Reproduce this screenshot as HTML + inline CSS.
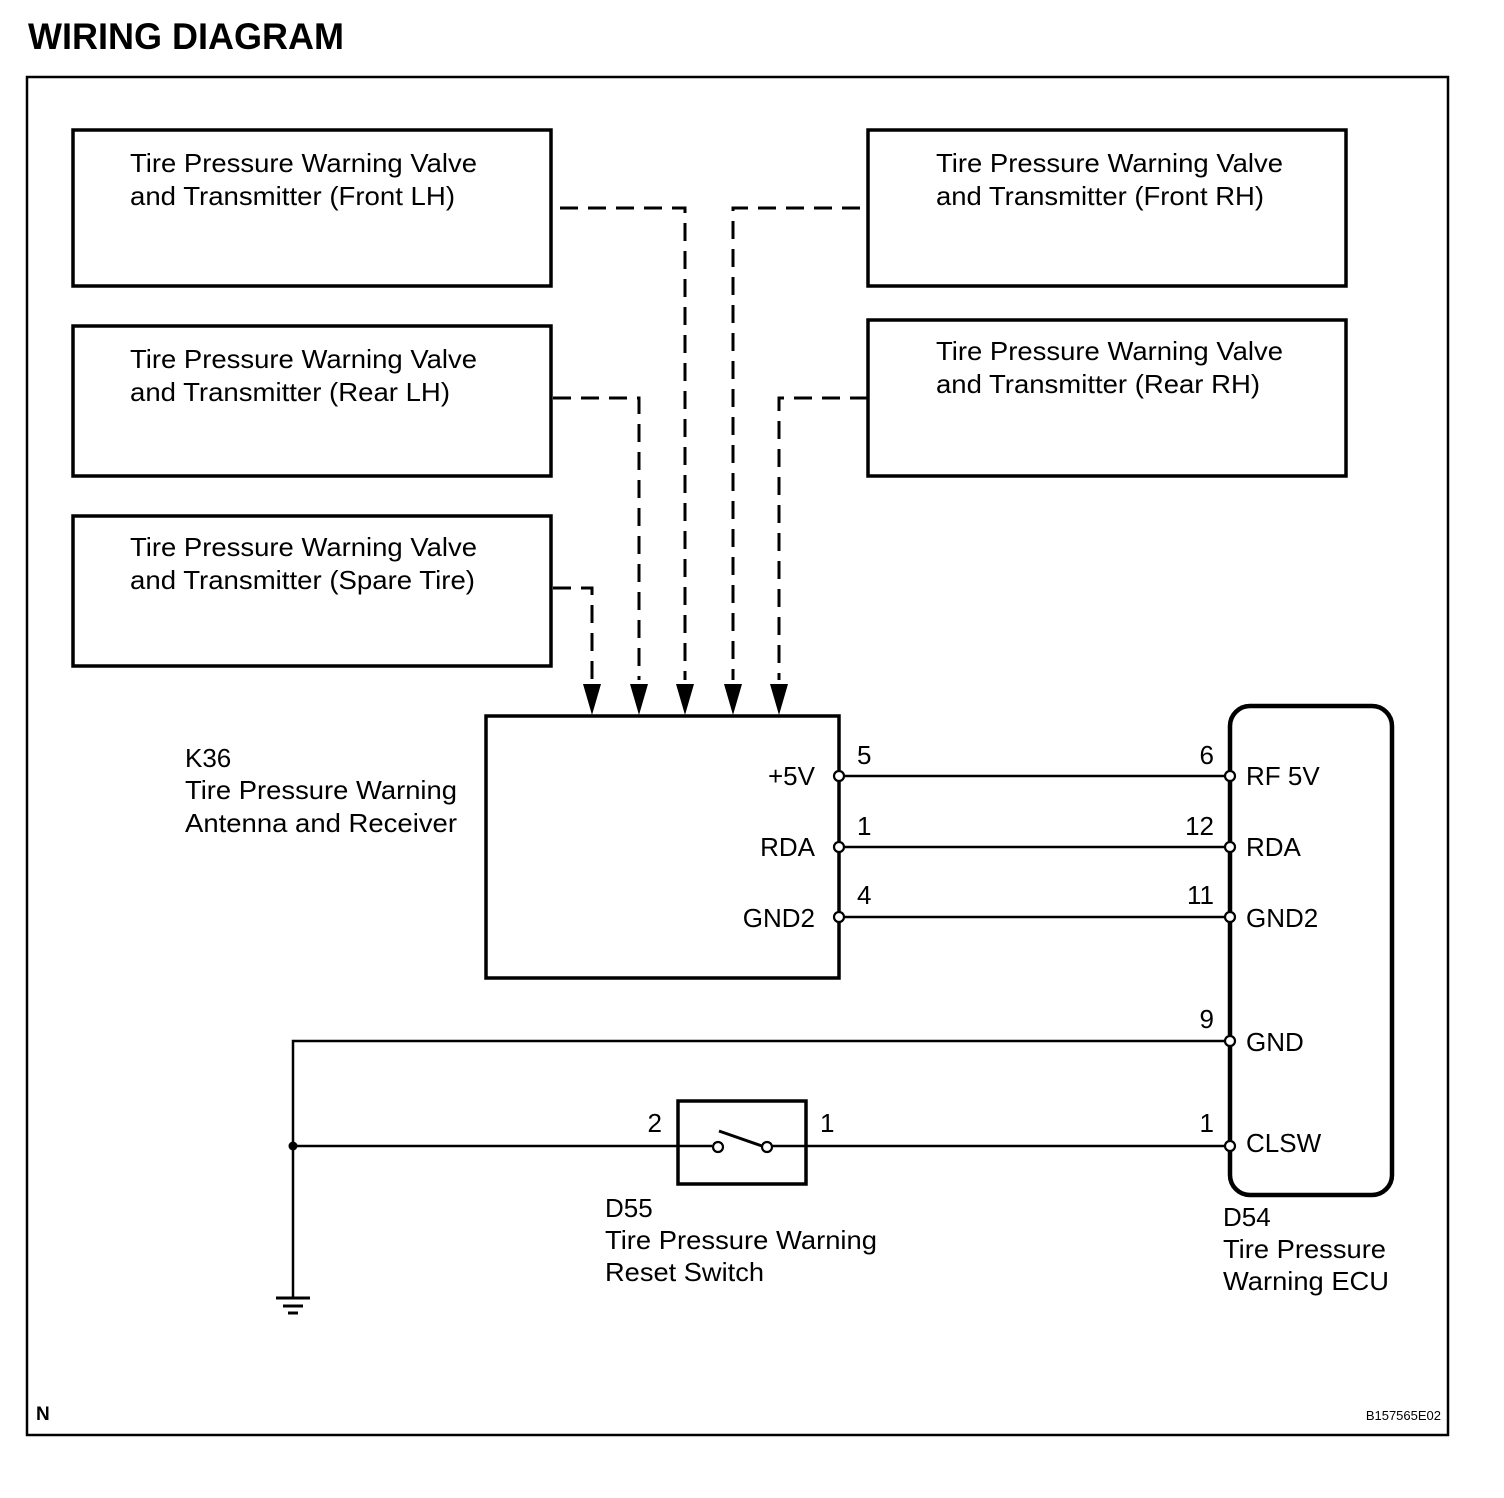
<!DOCTYPE html>
<html><head><meta charset="utf-8"><style>
html,body{margin:0;padding:0;background:#fff}
svg{display:block}
text{font-family:"Liberation Sans",Arial,sans-serif;fill:#000}
</style></head><body>
<svg width="1504" height="1498" viewBox="0 0 1504 1498" xmlns="http://www.w3.org/2000/svg">
<text x="28" y="49" font-size="37" font-weight="bold" textLength="316" lengthAdjust="spacingAndGlyphs">WIRING DIAGRAM</text>
<rect x="27" y="77" width="1421" height="1358" fill="none" stroke="#000" stroke-width="2.5"/>
<g fill="none" stroke="#000" stroke-width="3.5">
<rect x="73" y="130" width="478" height="156"/>
<rect x="73" y="326" width="478" height="150"/>
<rect x="73" y="516" width="478" height="150"/>
<rect x="868" y="130" width="478" height="156"/>
<rect x="868" y="320" width="478" height="156"/>
<rect x="486" y="716" width="353" height="262"/>
<rect x="1230" y="706" width="162" height="489" rx="20" stroke-width="4.5"/>
<rect x="678" y="1101" width="128" height="83"/>
</g>
<g font-size="26">
<text x="130" y="172" textLength="347" lengthAdjust="spacingAndGlyphs">Tire Pressure Warning Valve</text>
<text x="130" y="205" textLength="325" lengthAdjust="spacingAndGlyphs">and Transmitter (Front LH)</text>
<text x="130" y="368" textLength="347" lengthAdjust="spacingAndGlyphs">Tire Pressure Warning Valve</text>
<text x="130" y="401" textLength="320" lengthAdjust="spacingAndGlyphs">and Transmitter (Rear LH)</text>
<text x="130" y="556" textLength="347" lengthAdjust="spacingAndGlyphs">Tire Pressure Warning Valve</text>
<text x="130" y="589" textLength="345" lengthAdjust="spacingAndGlyphs">and Transmitter (Spare Tire)</text>
<text x="936" y="172" textLength="347" lengthAdjust="spacingAndGlyphs">Tire Pressure Warning Valve</text>
<text x="936" y="205" textLength="328" lengthAdjust="spacingAndGlyphs">and Transmitter (Front RH)</text>
<text x="936" y="360" textLength="347" lengthAdjust="spacingAndGlyphs">Tire Pressure Warning Valve</text>
<text x="936" y="393" textLength="324" lengthAdjust="spacingAndGlyphs">and Transmitter (Rear RH)</text>
<text x="185" y="767">K36</text>
<text x="185" y="799" textLength="272" lengthAdjust="spacingAndGlyphs">Tire Pressure Warning</text>
<text x="185" y="832" textLength="272" lengthAdjust="spacingAndGlyphs">Antenna and Receiver</text>
<text x="815" y="785" text-anchor="end">+5V</text>
<text x="815" y="856" text-anchor="end">RDA</text>
<text x="815" y="927" text-anchor="end">GND2</text>
<text x="857" y="764">5</text>
<text x="857" y="835">1</text>
<text x="857" y="904">4</text>
<text x="1214" y="764" text-anchor="end">6</text>
<text x="1214" y="835" text-anchor="end">12</text>
<text x="1214" y="904" text-anchor="end">11</text>
<text x="1214" y="1028" text-anchor="end">9</text>
<text x="1214" y="1132" text-anchor="end">1</text>
<text x="1246" y="785">RF 5V</text>
<text x="1246" y="856">RDA</text>
<text x="1246" y="927">GND2</text>
<text x="1246" y="1051">GND</text>
<text x="1246" y="1152">CLSW</text>
<text x="662" y="1132" text-anchor="end">2</text>
<text x="820" y="1132">1</text>
<text x="605" y="1217">D55</text>
<text x="605" y="1249" textLength="272" lengthAdjust="spacingAndGlyphs">Tire Pressure Warning</text>
<text x="605" y="1281" textLength="159" lengthAdjust="spacingAndGlyphs">Reset Switch</text>
<text x="1223" y="1226">D54</text>
<text x="1223" y="1258" textLength="163" lengthAdjust="spacingAndGlyphs">Tire Pressure</text>
<text x="1223" y="1290" textLength="166" lengthAdjust="spacingAndGlyphs">Warning ECU</text>
</g>
<text x="36" y="1420" font-size="19" font-weight="bold">N</text>
<text x="1441" y="1420" font-size="13" text-anchor="end">B157565E02</text>
<g fill="none" stroke="#000" stroke-width="3" stroke-dasharray="18,10">
<polyline points="560,208 685,208 685,680"/>
<polyline points="860,208 733,208 733,680"/>
<polyline points="553,398 639,398 639,680"/>
<polyline points="868,398 779,398 779,680"/>
<polyline points="553,588 592,588 592,680"/>
</g>
<g fill="#000">
<polygon points="583,684 601,684 592,715"/>
<polygon points="630,684 648,684 639,715"/>
<polygon points="676,684 694,684 685,715"/>
<polygon points="724,684 742,684 733,715"/>
<polygon points="770,684 788,684 779,715"/>
</g>
<g stroke="#000" stroke-width="2.5" fill="none">
<line x1="839" y1="776" x2="1230" y2="776"/>
<line x1="839" y1="847" x2="1230" y2="847"/>
<line x1="839" y1="917" x2="1230" y2="917"/>
<polyline points="1230,1041 293,1041 293,1298"/>
<line x1="293" y1="1146" x2="712" y2="1146"/>
<line x1="772" y1="1146" x2="1230" y2="1146"/>
<line x1="719" y1="1131" x2="762" y2="1146" stroke-width="3"/>
</g>
<g stroke="#000" stroke-width="3">
<line x1="276" y1="1298" x2="310" y2="1298"/>
<line x1="283" y1="1306" x2="303" y2="1306"/>
<line x1="288" y1="1313" x2="298" y2="1313"/>
</g>
<circle cx="293" cy="1146" r="4.5" fill="#000"/>
<g fill="#fff" stroke="#000" stroke-width="2.2">
<circle cx="839" cy="776" r="5"/><circle cx="839" cy="847" r="5"/><circle cx="839" cy="917" r="5"/>
<circle cx="1230" cy="776" r="5"/><circle cx="1230" cy="847" r="5"/><circle cx="1230" cy="917" r="5"/>
<circle cx="1230" cy="1041" r="5"/><circle cx="1230" cy="1146" r="5"/>
<circle cx="718" cy="1147" r="5"/><circle cx="767" cy="1147" r="5"/>
</g>
</svg>
</body></html>
